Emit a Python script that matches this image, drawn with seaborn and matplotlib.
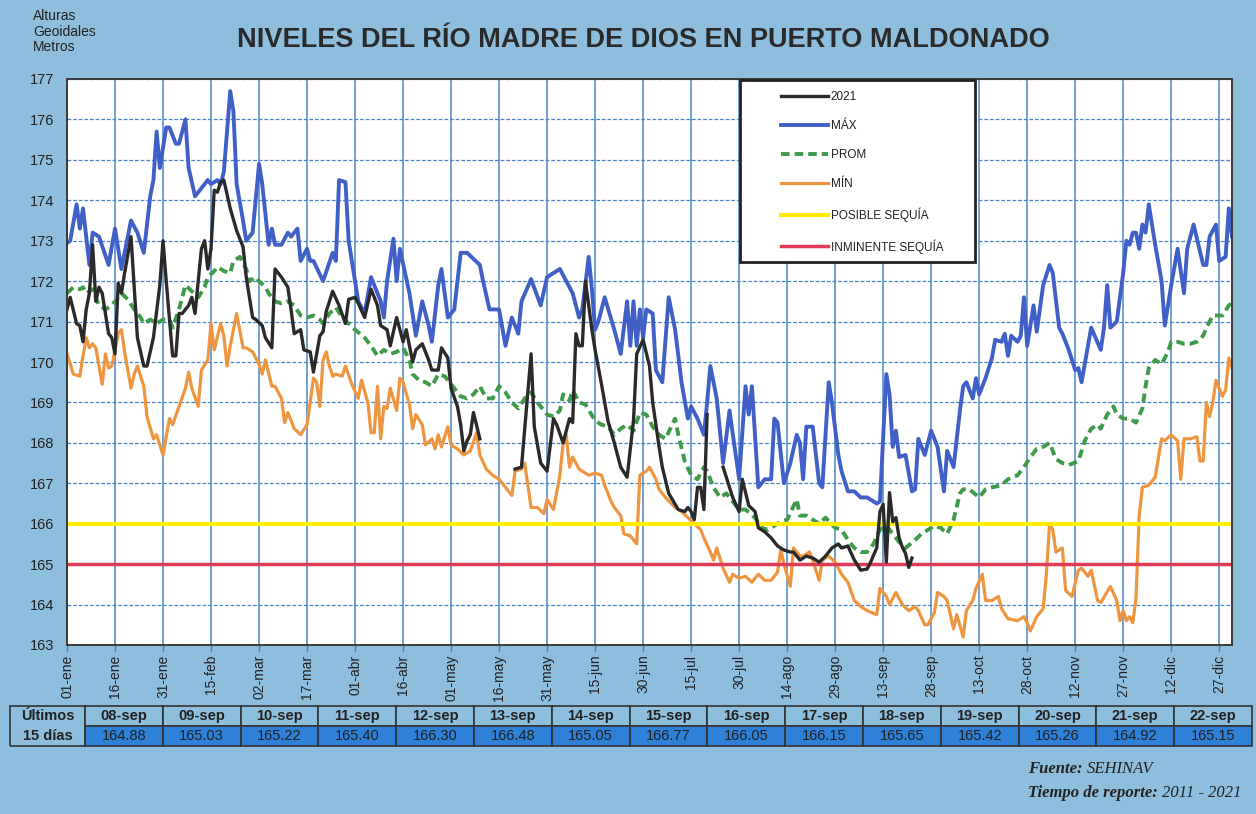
import pandas as pd
import matplotlib
matplotlib.use("Agg")
import matplotlib.pyplot as plt
import seaborn as sns
from matplotlib.lines import Line2D
from matplotlib.patches import Rectangle

# dia del año (0 = 01-ene) y nivel en metros
dias_max = [0, 1, 3, 4, 5, 7, 8, 10, 13, 15, 17, 20, 22, 24, 26, 27, 28, 29, 31, 32, 34, 35, 37, 38, 40, 42, 44, 45,
            47, 48, 49, 51, 52, 53, 55, 56, 58, 60, 61, 63, 64, 65, 67, 69, 70, 72, 73, 75, 76, 77, 80, 83, 84, 85,
            87, 88, 91, 93, 95, 98, 99, 100, 102, 103, 104, 107, 109, 111, 113, 114, 116, 117, 119, 121, 123, 125,
            129, 130, 132, 135, 137, 139, 141, 142, 145, 148, 150, 154, 158, 160, 161, 163, 164, 165, 166, 168, 171,
            173, 175, 176, 177, 178, 179, 180, 181, 183, 184, 186, 188, 190, 192, 194, 195, 197, 199, 200, 201, 203,
            205, 207, 210, 212, 213, 214, 216, 218, 220, 221, 222, 224, 226, 228, 229, 230, 231, 233, 235, 236, 238,
            239, 241, 242, 244, 246, 248, 250, 253, 254, 256, 257, 258, 259, 260, 262, 264, 265, 266, 268, 270, 272,
            274, 275, 277, 279, 280, 281, 283, 284, 285, 287, 289, 290, 292, 293, 294, 295, 297, 298, 299, 300, 302,
            303, 305, 307, 308, 310, 311, 313, 315, 316, 317, 320, 323, 324, 325, 326, 328, 330, 331, 332, 333, 334,
            335, 336, 337, 338, 340, 342, 343, 345, 347, 349, 350, 352, 355, 356, 357, 359, 360, 362, 363, 364]
nivel_max = [172.94, 173.0, 173.9, 173.3, 173.8, 172.4, 173.2, 173.1, 172.4, 173.3, 172.3, 173.5, 173.2, 172.7, 174.1,
             174.5, 175.7, 174.8, 175.8, 175.8, 175.4, 175.4, 176.0, 174.8, 174.1, 174.3, 174.5, 174.4, 174.5, 174.4,
             174.7, 176.7, 176.2, 174.4, 173.5, 173.0, 173.2, 174.9, 174.4, 172.9, 173.3, 172.9, 172.9, 173.2, 173.1,
             173.3, 172.5, 172.8, 172.5, 172.5, 172.0, 172.7, 172.5, 174.5, 174.45, 173.0, 171.5, 171.2, 172.1,
             171.5, 171.1, 172.0, 173.05, 172.0, 172.8, 171.7, 170.65, 171.5, 170.9, 170.5, 171.9, 172.3, 171.1,
             171.3, 172.7, 172.7, 172.4, 172.0, 171.3, 171.3, 170.4, 171.1, 170.7, 171.5, 172.05, 171.4, 172.1,
             172.3, 171.7, 171.1, 171.3, 172.6, 171.8, 170.8, 171.0, 171.6, 170.8, 170.2, 171.5, 170.4, 171.5, 170.4,
             171.3, 170.6, 171.3, 171.2, 169.8, 169.5, 171.6, 170.8, 169.5, 168.6, 168.9, 168.6, 168.2, 169.0, 169.9,
             169.1, 167.5, 168.8, 167.1, 169.4, 168.7, 169.4, 166.9, 167.1, 167.1, 168.6, 168.5, 167.0, 167.5, 168.2,
             168.0, 167.1, 168.4, 168.4, 167.0, 166.9, 169.5, 169.0, 167.7, 167.3, 166.8, 166.8, 166.65, 166.65,
             166.5, 166.55, 169.7, 169.2, 167.9, 168.3, 167.65, 167.7, 166.8, 166.85, 168.1, 167.7, 168.3, 167.9,
             166.8, 167.8, 167.4, 168.8, 169.4, 169.5, 169.1, 169.6, 169.2, 169.6, 170.1, 170.55, 170.5, 170.7,
             170.15, 170.65, 170.5, 170.65, 171.6, 170.4, 171.4, 170.75, 171.9, 172.4, 172.2, 170.85, 170.7, 170.3,
             169.8, 169.85, 169.5, 170.85, 170.3, 170.85, 171.9, 170.85, 171.0, 172.2, 173.0, 172.9, 173.2, 173.2,
             172.8, 173.4, 173.2, 173.9, 172.9, 172.0, 170.9, 171.9, 172.8, 171.7, 172.8, 173.4, 172.4, 172.4, 173.1,
             173.4, 172.5, 172.6, 173.8, 173.1]

dias_prom = [0, 2, 4, 5, 6, 8, 9, 10, 12, 14, 16, 17, 19, 21, 23, 24, 26, 28, 30, 32, 33, 35, 37, 39, 41, 43, 44, 46,
             47, 49, 51, 52, 54, 56, 57, 59, 60, 62, 63, 65, 67, 69, 71, 73, 75, 77, 79, 80, 82, 84, 86, 88, 90, 93,
             95, 97, 99, 101, 103, 105, 107, 108, 110, 112, 114, 116, 118, 121, 123, 125, 127, 129, 131, 133, 135,
             137, 139, 141, 143, 145, 147, 148, 150, 152, 154, 155, 157, 158, 160, 162, 165, 167, 169, 171, 173, 175,
             177, 179, 181, 183, 185, 187, 190, 191, 193, 195, 197, 199, 200, 202, 204, 206, 208, 210, 212, 215, 217,
             219, 221, 223, 225, 228, 229, 231, 233, 235, 237, 240, 242, 244, 246, 248, 250, 252, 254, 256, 258, 260,
             262, 265, 267, 269, 271, 273, 275, 277, 279, 280, 282, 285, 287, 289, 292, 294, 297, 299, 301, 303, 305,
             307, 309, 311, 313, 316, 318, 320, 322, 323, 325, 327, 328, 330, 332, 334, 336, 337, 338, 340, 342, 344,
             345, 347, 349, 351, 353, 355, 356, 358, 360, 361, 363, 364]
nivel_prom = [171.7, 171.85, 171.8, 171.85, 171.7, 171.8, 171.6, 171.4, 171.3, 171.4, 171.6, 171.7, 171.55, 171.3,
              171.1, 170.95, 171.05, 170.95, 171.05, 171.05, 170.85, 171.3, 171.9, 171.75, 171.6, 171.85, 172.1,
              172.25, 172.35, 172.25, 172.2, 172.5, 172.6, 172.3, 172.0, 172.1, 172.0, 171.85, 171.7, 171.5, 171.45,
              171.5, 171.4, 171.15, 171.1, 171.15, 171.05, 170.95, 171.2, 171.35, 171.1, 170.95, 170.8, 170.6, 170.4,
              170.15, 170.3, 170.2, 170.25, 170.35, 170.05, 169.7, 169.55, 169.5, 169.4, 169.7, 169.65, 169.35,
              169.15, 169.1, 169.2, 169.4, 169.1, 169.1, 169.4, 169.25, 169.0, 168.85, 169.1, 169.25, 169.0, 168.9,
              168.7, 168.65, 168.8, 169.2, 169.05, 169.3, 169.0, 168.95, 168.55, 168.45, 168.4, 168.2, 168.35, 168.45,
              168.3, 168.75, 168.7, 168.4, 168.2, 168.1, 168.6, 168.2, 167.55, 167.2, 167.1, 167.4, 167.3, 166.9,
              166.65, 166.75, 166.55, 166.35, 166.35, 166.15, 165.9, 165.85, 165.95, 166.05, 166.1, 166.6, 166.2,
              166.2, 166.1, 166.0, 166.15, 165.9, 165.85, 165.6, 165.4, 165.3, 165.3, 165.5, 165.85, 165.95, 165.75,
              165.55, 165.4, 165.6, 165.75, 165.85, 165.95, 165.9, 165.75, 166.1, 166.75, 166.85, 166.85, 166.65,
              166.85, 166.9, 166.95, 167.1, 167.2, 167.4, 167.65, 167.85, 167.9, 168.0, 167.6, 167.5, 167.45, 167.55,
              168.05, 168.35, 168.45, 168.35, 168.7, 168.9, 168.7, 168.6, 168.6, 168.5, 168.85, 169.4, 169.85, 170.05,
              169.95, 170.25, 170.5, 170.5, 170.45, 170.45, 170.5, 170.65, 170.85, 171.15, 171.15, 171.15, 171.4,
              171.45]

dias_min = [0, 2, 4, 5, 6, 7, 8, 9, 11, 12, 13, 14, 16, 17, 18, 20, 21, 22, 24, 25, 27, 28, 30, 32, 33, 35, 37, 38,
            39, 41, 42, 44, 45, 46, 48, 49, 50, 51, 53, 55, 56, 58, 60, 61, 62, 64, 65, 67, 68, 69, 71, 73, 75, 77,
            78, 79, 80, 81, 82, 83, 84, 86, 87, 89, 91, 92, 94, 95, 96, 97, 98, 99, 100, 101, 103, 104, 105, 107,
            108, 109, 111, 112, 114, 115, 116, 117, 119, 120, 122, 124, 126, 128, 129, 131, 133, 135, 137, 139, 140,
            142, 143, 145, 147, 149, 150, 152, 154, 155, 156, 157, 158, 160, 161, 163, 165, 167, 168, 170, 171, 173,
            174, 176, 177, 178, 179, 181, 182, 184, 185, 187, 190, 192, 194, 196, 198, 199, 201, 202, 203, 205, 207,
            208, 210, 212, 214, 216, 218, 220, 222, 223, 224, 226, 227, 229, 230, 232, 233, 235, 236, 238, 240, 242,
            244, 246, 248, 250, 253, 254, 256, 257, 259, 261, 263, 265, 266, 268, 269, 271, 272, 274, 275, 277, 278,
            280, 281, 283, 284, 286, 287, 289, 291, 292, 294, 297, 299, 300, 301, 303, 305, 306, 307, 308, 309, 311,
            312, 314, 316, 317, 319, 320, 322, 323, 326, 328, 329, 330, 331, 332, 333, 334, 335, 336, 338, 340, 342,
            343, 345, 347, 348, 349, 351, 353, 354, 355, 356, 357, 358, 359, 361, 362, 363, 364]
nivel_min = [170.2, 169.7, 169.65, 170.15, 170.6, 170.35, 170.45, 170.35, 169.45, 170.2, 169.85, 169.9, 170.7, 170.8,
             170.25, 169.35, 169.7, 169.9, 169.4, 168.65, 168.1, 168.2, 167.7, 168.6, 168.45, 168.9, 169.35, 169.75,
             169.35, 168.9, 169.8, 170.05, 170.95, 170.3, 170.95, 170.65, 169.9, 170.4, 171.2, 170.35, 170.35, 170.25,
             169.95, 169.7, 170.05, 169.4, 169.4, 169.1, 168.5, 168.75, 168.35, 168.2, 168.45, 169.6, 169.5, 168.9,
             170.05, 170.25, 169.9, 169.65, 169.7, 169.65, 169.9, 169.45, 169.1, 169.55, 169.0, 168.25, 168.25,
             169.4, 168.1, 168.9, 168.85, 169.35, 168.8, 169.6, 169.5, 168.95, 168.35, 168.7, 168.45, 167.95, 168.1,
             167.85, 168.2, 167.9, 168.4, 167.95, 167.85, 167.7, 167.8, 168.25, 167.7, 167.35, 167.2, 167.1, 166.9,
             166.7, 167.3, 167.35, 167.5, 166.4, 166.4, 166.25, 166.6, 166.35, 167.2, 168.0, 168.2, 167.4, 167.65,
             167.35, 167.3, 167.2, 167.25, 167.2, 166.95, 166.55, 166.4, 166.2, 165.75, 165.7, 165.6, 165.5, 167.2,
             167.3, 167.4, 167.1, 166.85, 166.65, 166.4, 166.3, 166.15, 166.0, 165.85, 165.65, 165.3, 165.1, 165.4,
             164.9, 164.55, 164.75, 164.65, 164.7, 164.55, 164.75, 164.6, 164.6, 164.8, 165.35, 165.0, 164.45, 165.4,
             165.2, 165.2, 165.3, 165.1, 164.6, 165.1, 165.2, 165.05, 164.75, 164.55, 164.1, 163.95, 163.85, 163.75,
             164.4, 164.2, 164.0, 164.3, 164.0, 163.85, 163.95, 163.85, 163.5, 163.5, 163.8, 164.3, 164.2, 164.1,
             163.4, 163.75, 163.2, 163.85, 164.1, 164.4, 164.75, 164.1, 164.1, 164.2, 163.9, 163.65, 163.6, 163.7,
             163.55, 163.35, 163.7, 163.9, 164.75, 166.0, 165.85, 165.3, 165.4, 164.35, 164.2, 164.85, 164.9, 164.7,
             164.85, 164.1, 164.05, 164.45, 164.1, 163.6, 163.85, 163.6, 163.7, 163.55, 164.15, 166.2, 166.9, 166.95,
             167.15, 168.1, 168.05, 168.2, 168.05, 167.1, 168.1, 168.1, 168.15, 167.55, 167.55, 169.0, 168.65, 169.0,
             169.55, 169.15, 169.3, 170.1, 169.85]

# ultimos dias (tabla inferior)
tabla_fechas = ["08-sep", "09-sep", "10-sep", "11-sep", "12-sep", "13-sep", "14-sep", "15-sep",
                "16-sep", "17-sep", "18-sep", "19-sep", "20-sep", "21-sep", "22-sep"]
tabla_niveles = [164.88, 165.03, 165.22, 165.40, 166.30, 166.48, 165.05, 166.77,
                 166.05, 166.15, 165.65, 165.42, 165.26, 164.92, 165.15]
tabla_dias = list(range(250, 265))

# 2021 en tres tramos (hay vacios sin dato)
dias_2021_a = [0, 1, 3, 4, 5, 6, 7, 8, 9, 10, 11, 13, 14, 15, 16, 17, 18, 20, 21, 22, 24, 25, 27, 29, 30, 31, 33, 34,
               35, 36, 38, 39, 40, 42, 43, 44, 45, 46, 47, 48, 49, 51, 53, 55, 56, 58, 59, 61, 62, 64, 65, 67, 69, 70,
               71, 73, 74, 76, 77, 79, 80, 81, 83, 85, 87, 88, 90, 91, 93, 95, 97, 98, 100, 101, 103, 105, 106, 108,
               109, 111, 113, 114, 116, 117, 119, 120, 122, 123, 124, 125, 126, 127, 129]
nivel_2021_a = [171.3, 171.6, 170.95, 170.9, 170.5, 171.3, 171.7, 172.9, 171.5, 171.85, 171.7, 170.7, 170.6, 170.2,
                171.95, 171.7, 172.2, 173.1, 171.85, 170.6, 169.9, 169.9, 170.6, 171.9, 173.0, 172.0, 170.15, 170.15,
                171.2, 171.2, 171.4, 171.6, 171.2, 172.8, 173.0, 172.3, 172.8, 174.25, 174.2, 174.45, 174.5, 173.8,
                173.25, 172.85, 172.1, 171.1, 171.05, 170.9, 170.6, 170.35, 172.3, 172.1, 171.85, 171.3, 170.7, 170.8,
                170.3, 170.25, 169.75, 170.65, 170.75, 171.25, 171.75, 171.4, 170.95, 171.55, 171.6, 171.45, 171.1,
                171.8, 171.4, 170.9, 170.8, 170.4, 171.1, 170.5, 170.8, 170.0, 170.3, 170.45, 170.05, 169.8, 169.8,
                170.35, 170.1, 169.35, 168.9, 168.45, 167.8, 168.05, 168.2, 168.75, 168.1]
dias_2021_b = [140, 142, 145, 146, 148, 150, 152, 153, 155, 157, 158, 159, 160, 161, 162, 164, 165, 167, 169, 171,
               173, 175, 177, 178, 180, 182, 183, 185, 186, 188, 191, 193, 194, 195, 196, 197, 198, 199, 200]
nivel_2021_b = [167.35, 167.4, 170.2, 168.4, 167.5, 167.3, 168.6, 168.45, 168.0, 168.6, 168.5, 170.7, 170.4, 170.4,
                172.0, 170.8, 170.3, 169.45, 168.55, 168.0, 167.4, 167.15, 168.55, 170.2, 170.55, 169.9, 169.0,
                167.9, 167.4, 166.75, 166.35, 166.3, 166.4, 166.3, 166.1, 166.9, 166.9, 166.35, 168.7]
dias_2021_c = [205, 208, 210, 211, 213, 215, 216, 218, 220, 222, 224, 226, 227, 229, 231, 233, 235, 237, 239, 241,
               242, 244, 246, 248] + tabla_dias
nivel_2021_c = [167.4, 166.65, 166.3, 167.1, 166.45, 166.3, 165.9, 165.8, 165.65, 165.45, 165.35, 165.3, 165.3,
                165.1, 165.2, 165.15, 165.05, 165.2, 165.4, 165.5, 165.4, 165.45, 165.1, 164.85] + tabla_niveles

posible_sequia = 166.0
inminente_sequia = 165.0

ticks_dias = list(range(0, 361, 15))
ticks_fechas = ["01-ene", "16-ene", "31-ene", "15-feb", "02-mar", "17-mar", "01-abr", "16-abr", "01-may",
                "16-may", "31-may", "15-jun", "30-jun", "15-jul", "30-jul", "14-ago", "29-ago", "13-sep",
                "28-sep", "13-oct", "28-oct", "12-nov", "27-nov", "12-dic", "27-dic"]

# colores
fondo = "#8dbedd"
azul_grid = "#4a86c5"
c_2021 = "#2a2a2a"
c_max = "#4060c8"
c_prom = "#3f9a4c"
c_min = "#ee9540"
c_amar = "#ffec00"
c_rojo = "#e03c58"

plt.rcParams["font.family"] = ["Liberation Sans", "DejaVu Sans"]

df_max = pd.DataFrame({"dia": dias_max, "nivel": nivel_max})
df_prom = pd.DataFrame({"dia": dias_prom, "nivel": nivel_prom})
df_min = pd.DataFrame({"dia": dias_min, "nivel": nivel_min})
df_2021 = pd.concat([
    pd.DataFrame({"dia": dias_2021_a, "nivel": nivel_2021_a, "tramo": 1}),
    pd.DataFrame({"dia": dias_2021_b, "nivel": nivel_2021_b, "tramo": 2}),
    pd.DataFrame({"dia": dias_2021_c, "nivel": nivel_2021_c, "tramo": 3}),
])

W, H = 1256, 814
fig = plt.figure(figsize=(W / 100, H / 100), dpi=100, facecolor=fondo)
ax = fig.add_axes([67 / W, 1 - 645 / H, (1232 - 67) / W, (645 - 79) / H])
ax.set_facecolor("white")

dash_prom = (0, (2.2, 1.3))
sns.lineplot(data=df_max, x="dia", y="nivel", color=c_max, lw=2.8, estimator=None, ax=ax)
sns.lineplot(data=df_prom, x="dia", y="nivel", color=c_prom, lw=2.8, estimator=None, ax=ax, linestyle=dash_prom)
sns.lineplot(data=df_min, x="dia", y="nivel", color=c_min, lw=2.3, estimator=None, ax=ax)
ax.axhline(posible_sequia, color=c_amar, lw=3)
ax.axhline(inminente_sequia, color=c_rojo, lw=2.5)
sns.lineplot(data=df_2021, x="dia", y="nivel", units="tramo", color=c_2021, lw=2.4, estimator=None, ax=ax)

ax.set_xlim(0, 364)
ax.set_ylim(163, 177)
ax.set_xticks(ticks_dias)
ax.set_xticklabels(ticks_fechas, rotation=90, fontsize=10, color="#222")
ax.set_yticks(range(163, 178))
ax.tick_params(axis="y", length=0, pad=9, labelsize=10.5, labelcolor="#222")
ax.tick_params(axis="x", length=5, width=1, color=azul_grid, pad=2)
ax.set_xlabel("")
ax.set_ylabel("")
ax.set_axisbelow(True)
ax.grid(axis="x", color=azul_grid, lw=1.1, ls="-")
ax.grid(axis="y", color=azul_grid, lw=0.9, ls=(0, (3, 1.5)))
for s in ax.spines.values():
    s.set_color("#3a3a3a")
    s.set_linewidth(1.4)

# textos
fig.text(0.512, 1 - 40 / H, "NIVELES DEL RÍO MADRE DE DIOS EN PUERTO MALDONADO", ha="center", va="center",
         fontsize=19.5, fontweight="bold", color="#2a2a2a")
fig.text(33 / W, 1 - 9 / H, "Alturas\nGeoidales\nMetros", ha="left", va="top", fontsize=10,
         linespacing=1.15, color="#222")

# leyenda con caja propia
caja = Rectangle((740 / W, 1 - 262 / H), 235 / W, 182 / H, transform=fig.transFigure,
                 facecolor="white", edgecolor="#222", lw=2, zorder=8)
fig.patches.append(caja)
handles = [Line2D([], [], color=c_2021, lw=2.4),
           Line2D([], [], color=c_max, lw=2.8),
           Line2D([], [], color=c_prom, lw=2.8, ls=dash_prom),
           Line2D([], [], color=c_min, lw=2.3),
           Line2D([], [], color=c_amar, lw=3),
           Line2D([], [], color=c_rojo, lw=2.5)]
labels = ["2021", "MÁX", "PROM", "MÍN", "POSIBLE SEQUÍA", "INMINENTE SEQUÍA"]
leg = fig.legend(handles, labels, loc="upper left", bbox_to_anchor=(781 / W, 1 - 91 / H),
                 bbox_transform=fig.transFigure, frameon=False, fontsize=8.5, handlelength=4.0,
                 handletextpad=0.2, labelspacing=1.45, borderpad=0, borderaxespad=0)
leg.set_zorder(9)
for t in leg.get_texts():
    t.set_color("#222")

# tabla de ultimos dias
ax_t = fig.add_axes([10 / W, 1 - 746 / H, 1242 / W, 40 / H])
ax_t.axis("off")
fila1 = ["Últimos"] + tabla_fechas
fila2 = ["15 días"] + [f"{v:.2f}" for v in tabla_niveles]
anchos = [75 / 1242] + [(1242 - 75) / 15 / 1242] * 15
tbl = ax_t.table(cellText=[fila1, fila2], colWidths=anchos, bbox=[0, 0, 1, 1], cellLoc="center")
tbl.auto_set_font_size(False)
for (r, c), cell in tbl.get_celld().items():
    cell.set_edgecolor("#333")
    cell.set_linewidth(1.2)
    txt = cell.get_text()
    txt.set_fontsize(10.5)
    txt.set_color("#222")
    if r == 0 or c == 0:
        cell.set_facecolor(fondo)
        txt.set_fontweight("bold")
    else:
        cell.set_facecolor("#2f80d8")
for c in range(16):
    tbl[0, c].visible_edges = "LRT" if c == 0 else "closed"
tbl[1, 0].visible_edges = "LRB"

serif = ["Liberation Serif", "DejaVu Serif"]
t1 = fig.text(1028 / W, 1 - 773 / H, "Fuente: ", family=serif, style="italic", fontweight="bold", fontsize=12,
              ha="left", va="baseline", color="#222")
ax_t.annotate("SEHINAV", xy=(1, 0), xycoords=t1, family=serif, style="italic", fontsize=12,
              ha="left", va="bottom", color="#222", annotation_clip=False)
t2 = fig.text(1028 / W, 1 - 797 / H, "Tiempo de reporte: ", family=serif, style="italic", fontweight="bold",
              fontsize=12, ha="left", va="baseline", color="#222")
ax_t.annotate("2011 - 2021", xy=(1, 0), xycoords=t2, family=serif, style="italic", fontsize=12,
              ha="left", va="bottom", color="#222", annotation_clip=False)

fig.savefig("out.png", dpi=100, facecolor=fondo)
